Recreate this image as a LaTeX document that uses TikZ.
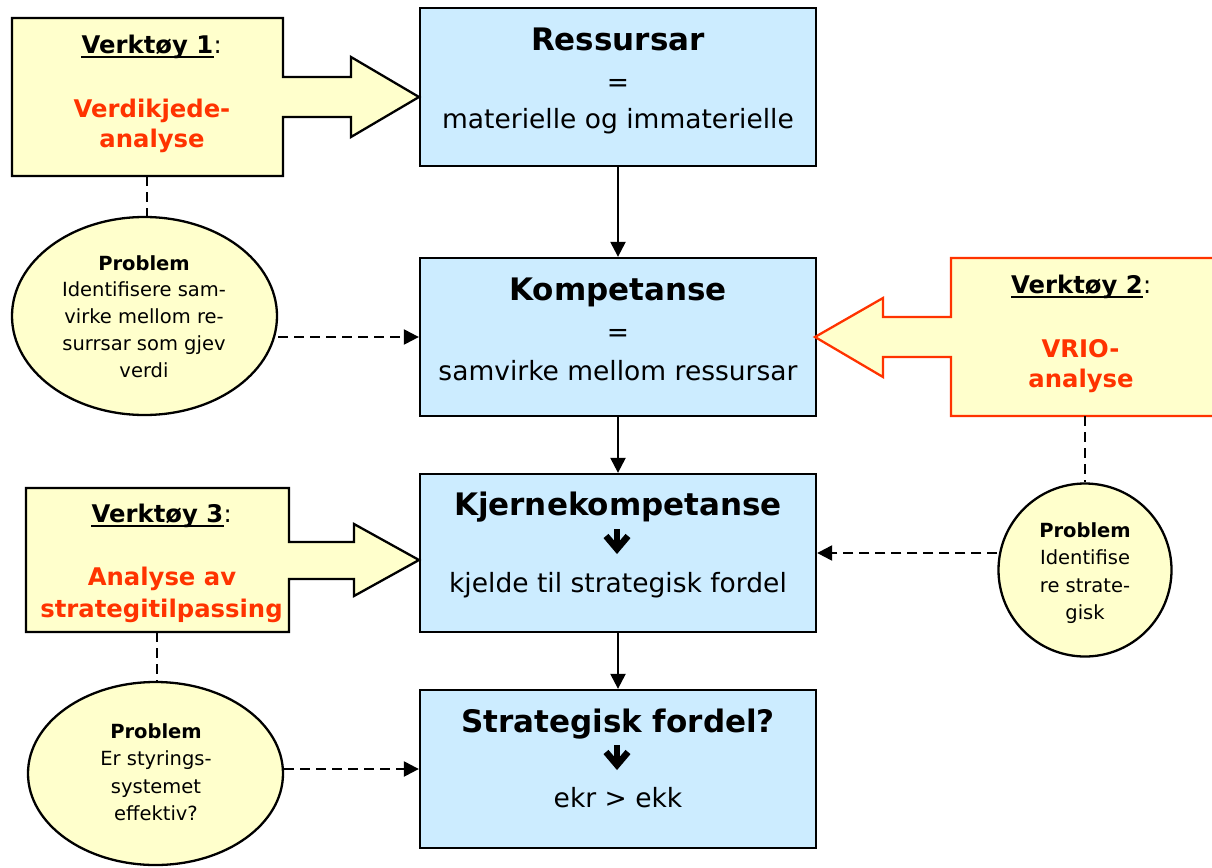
\documentclass[tikz,border=0pt]{standalone}
\usepackage{fontspec}
\setmainfont{DejaVu Sans}
\usetikzlibrary{arrows.meta,calc,shapes.geometric}
\definecolor{boxblue}{HTML}{CCECFF}
\definecolor{noteyellow}{HTML}{FFFFCC}
\definecolor{toolred}{HTML}{FF3300}
\newcommand{\fsz}[1]{\fontsize{#1}{#1}\selectfont}

\begin{document}
\begin{tikzpicture}[x=1pt,y=-1pt,
  bluebox/.style={draw=black, line width=2.3pt, fill=boxblue,
    minimum width=396pt, minimum height=158pt, inner sep=0pt},
  titletxt/.style={inner sep=0pt, anchor=base, font=\fsz{31}\bfseries},
  bodytxt/.style={inner sep=0pt, anchor=base, font=\fsz{26.5}},
  tooltxt/.style={inner sep=0pt, anchor=base, font=\fsz{24.3}\bfseries},
  toolname/.style={tooltxt, text=toolred},
  colon/.style={inner sep=0pt, anchor=base west, font=\fsz{24.3}},
  probhead/.style={inner sep=0pt, anchor=base, font=\fsz{19.5}\bfseries},
  probtxt/.style={inner sep=0pt, anchor=base, font=\fsz{19.5}},
  probshape/.style={ellipse, draw=black, line width=2.3pt, fill=noteyellow, inner sep=0pt},
  toolshape/.style={draw=black, line width=2.3pt, fill=noteyellow, line join=miter},
  flow/.style={draw=black, line width=2.3pt, -{Triangle[length=15pt,width=15pt]}},
  link/.style={draw=black, line width=2.3pt, dash pattern=on 10pt off 6pt},
  linkarrow/.style={link, -{Triangle[length=15pt,width=15pt]}},
  downglyph/.pic={
    \draw[line width=6.5pt] (0,-2) -- (0,16);
    \draw[line width=6.5pt, line join=miter] (-11,5) -- (0,18) -- (11,5);
  }
]
\useasboundingbox (0,0) rectangle (1212,867);

% --- main chain of blue boxes ---
\node[bluebox] (res)    at (618,87)  {};
\node[bluebox] (kom)    at (618,337) {};
\node[bluebox] (kjerne) at (618,553) {};
\node[bluebox] (strat)  at (618,769) {};

\node[titletxt] (resT)  at (618,51)  {Ressursar};
\node[bodytxt]  (resE)  at (618,91)  {=};
\node[bodytxt]  (resB)  at (618,128) {materielle og immaterielle};

\node[titletxt] (komT)  at (618,300) {Kompetanse};
\node[bodytxt]  (komE)  at (618,341) {=};
\node[bodytxt]  (komB)  at (618,380) {samvirke mellom ressursar};

\node[titletxt] (kjT)   at (618,515) {Kjernekompetanse};
\pic at (617,531) {downglyph};
\node[bodytxt]  (kjB)   at (618,592) {kjelde til strategisk fordel};

\node[titletxt] (stT)   at (618,732) {Strategisk fordel?};
\pic at (617,747) {downglyph};
\node[bodytxt]  (stB)   at (618,807) {ekr > ekk};

\draw[flow] (res) -- (kom);
\draw[flow] (kom) -- (kjerne);
\draw[flow] (kjerne) -- (strat);

% --- tool 1 ---
\draw[toolshape] (12,18) -- (283,18) -- (283,77) -- (351,77) -- (351,57)
  -- (419,97) -- (351,137) -- (351,117) -- (283,117) -- (283,176)
  -- (12,176) -- cycle;
\coordinate (t1foot) at (147,176);
\node[tooltxt] (t1h) at (147.5,53) {Verktøy 1};
\node[colon] (t1c) at (t1h.base east) {:};
\draw[line width=2pt] ([yshift=-4pt]t1h.base west) -- ([yshift=-4pt]t1h.base east);
\node[toolname] (t1a) at (152,117) {Verdikjede-};
\node[toolname] (t1b) at (152,147) {analyse};

\node[probshape, minimum width=265pt, minimum height=198pt] (p1) at (144.5,316) {};
\node[probhead] (p1h) at (144,270) {Problem};
\node[probtxt]  (p1a) at (144,296) {Identifisere sam-};
\node[probtxt]  (p1b) at (144,323) {virke mellom re-};
\node[probtxt]  (p1c) at (144,350) {surrsar som gjev};
\node[probtxt]  (p1d) at (144,377) {verdi};
\draw[link] (t1foot) -- (t1foot |- p1.north);
\draw[linkarrow] (p1.east |- kom.west) -- (kom.west);

% --- tool 2 ---
\draw[toolshape, draw=toolred] (1230,258) -- (951,258) -- (951,317) -- (883,317)
  -- (883,298) -- (815,337) -- (883,377) -- (883,357) -- (951,357)
  -- (951,416) -- (1230,416);
\node[tooltxt] (t2h) at (1077,293) {Verktøy 2};
\node[colon] (t2c) at (t2h.base east) {:};
\draw[line width=2pt] ([yshift=-4pt]t2h.base west) -- ([yshift=-4pt]t2h.base east);
\node[toolname] (t2a) at (1080.5,357) {VRIO-};
\node[toolname] (t2b) at (1081,387) {analyse};

\node[probshape, circle, minimum size=173pt] (p2) at (1085,570) {};
\node[probhead] (p2h) at (1085,537) {Problem};
\node[probtxt]  (p2a) at (1085,564.5) {Identifise};
\node[probtxt]  (p2b) at (1085,592) {re strate-};
\node[probtxt]  (p2c) at (1085,619.5) {gisk};
\draw[link] (p2.north |- 0,416) -- (p2.north);
\draw[linkarrow] (p2.west |- kjerne.east) -- (kjerne.east);

% --- tool 3 ---
\draw[toolshape] (26,488) -- (289,488) -- (289,542) -- (354,542) -- (354,524)
  -- (419,560) -- (354,596) -- (354,579) -- (289,579) -- (289,632)
  -- (26,632) -- cycle;
\coordinate (t3foot) at (157,632);
\node[tooltxt] (t3h) at (157.5,522) {Verktøy 3};
\node[colon] (t3c) at (t3h.base east) {:};
\draw[line width=2pt] ([yshift=-4pt]t3h.base west) -- ([yshift=-4pt]t3h.base east);
\node[toolname] (t3a) at (162,585) {Analyse av};
\node[toolname] (t3b) at (161.5,617) {strategitilpassing};

\node[probshape, minimum width=255pt, minimum height=183pt] (p3) at (155.5,773.5) {};
\node[probhead] (p3h) at (156,738) {Problem};
\node[probtxt]  (p3a) at (156,765) {Er styrings-};
\node[probtxt]  (p3b) at (156,793) {systemet};
\node[probtxt]  (p3c) at (156,820) {effektiv?};
\draw[link] (t3foot) -- (t3foot |- p3.north);
\draw[linkarrow] (p3.east |- strat.west) -- (strat.west);
\end{tikzpicture}
\end{document}
